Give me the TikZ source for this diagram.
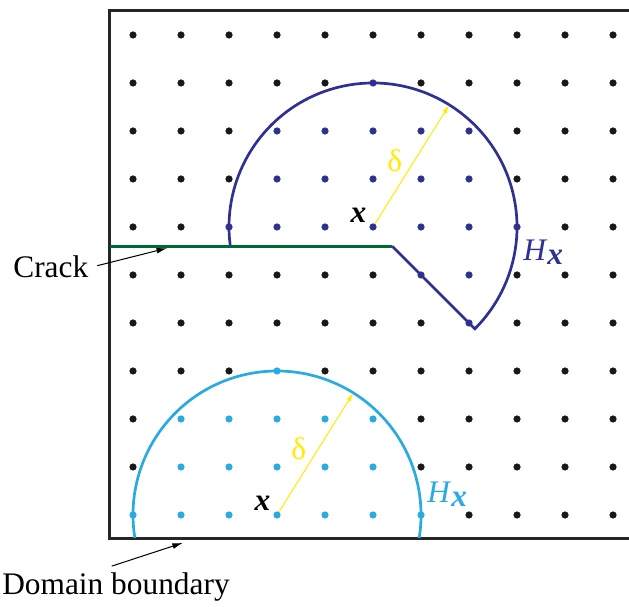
\documentclass[tikz,border=0pt]{standalone}
\usepackage{fontspec}
\setmainfont{Liberation Serif}
\usetikzlibrary{arrows.meta,calc}
\definecolor{hdark}{RGB}{46,49,146}
\definecolor{hlight}{RGB}{41,171,226}
\definecolor{crackgreen}{RGB}{0,104,55}
\definecolor{dyellow}{RGB}{255,236,0}

\begin{document}
\begin{tikzpicture}[
  every node/.style={font=\fontsize{18.6}{22}\selectfont, inner sep=0pt},
  ptr/.style={-{Latex[length=2.2mm,width=1.2mm]}, line width=0.6pt},
  radiusarrow/.style={-{Latex[length=1.8mm,width=1mm]}, line width=0.6pt, dyellow},
  horizon/.style={line width=1.6pt},
]
\pgfmathsetmacro{\R}{3}    % horizon radius (grid units)
\pgfmathsetmacro{\cy}{5.6} % crack height
\pgfmathsetmacro{\tx}{5.4} % crack tip
\pgfmathsetmacro{\pr}{0.075} % dot radius

% Frame of the picture
\useasboundingbox (-2.771,-1.896) rectangle (10.333,10.729);
\clip (-2.771,-1.896) rectangle (10.333,10.729);

% Domain
\draw[line width=1.8pt, black!85] (-0.48,-0.48) rectangle (10.52,10.52);

% Centre points
\coordinate (xa) at (5,6);
\coordinate (xb) at (3,0);

% Horizons
\draw[horizon, hdark] (2.027,\cy) arc[start angle=187.66, end angle=-45, radius=\R] -- (\tx,\cy);
\draw[horizon, hlight] (0.039,-0.48) arc[start angle=189.21, end angle=-9.21, radius=\R];

% Crack
\draw[crackgreen, line width=1.8pt] (-0.48,\cy) -- (\tx,\cy);

% Radius arrows
\coordinate (da) at ($(xa)+(58:\R)$);
\coordinate (db) at ($(xb)+(58:\R)$);
\draw[radiusarrow] (xa) -- (da);
\draw[radiusarrow] (xb) -- (db);

% Grid points: coloured when inside a horizon
\foreach \i in {0,...,10} {
  \foreach \j in {0,...,10} {
    \pgfmathtruncatemacro{\inA}{and((\i-5)^2+(\j-6)^2<9.01, or(\j>\cy, \i+\j>10.99))}
    \pgfmathtruncatemacro{\inB}{(\i-3)^2+(\j)^2<9.01}
    \ifnum\inA=1 \def\dc{hdark}\else\ifnum\inB=1 \def\dc{hlight}\else\def\dc{black!90}\fi\fi
    \fill[\dc] (\i,\j) circle (\pr);
  }
}

% Labels
\node[anchor=base east] (xlabA) at ($(xa)+(-0.13,0.1)$) {\textbf{\textit{x}}};
\node[anchor=base east] (xlabB) at ($(xb)+(-0.13,0.1)$) {\textbf{\textit{x}}};
\node[anchor=base west, dyellow] (delA) at ($(xa)+(0.29,1.15)$) {δ};
\node[anchor=base west, dyellow] (delB) at ($(xb)+(0.29,1.15)$) {δ};
\node[anchor=base west, hdark] (hA) at (8.125,5.31) {\textit{H}\raisebox{-0.1cm}{\textbf{\textit{x}}}};
\node[anchor=base west, hlight] (hB) at (6.125,0.27) {\textit{H}\raisebox{-0.1cm}{\textbf{\textit{x}}}};

% Callouts
\node[anchor=base west] (crack) at (-2.5,4.94) {Crack};
\coordinate (crackpt) at (0.71,5.56);
\draw[ptr] ($(crack.east)+(0.18,0.03)$) -- (crackpt);

\node[anchor=base west] (domain) at (-2.73,-1.646) {Domain boundary};
\coordinate (bdpt) at (1.04,-0.58);
\draw[ptr] ($(domain.north)+(-0.09,0.12)$) -- (bdpt);

\end{tikzpicture}
\end{document}
